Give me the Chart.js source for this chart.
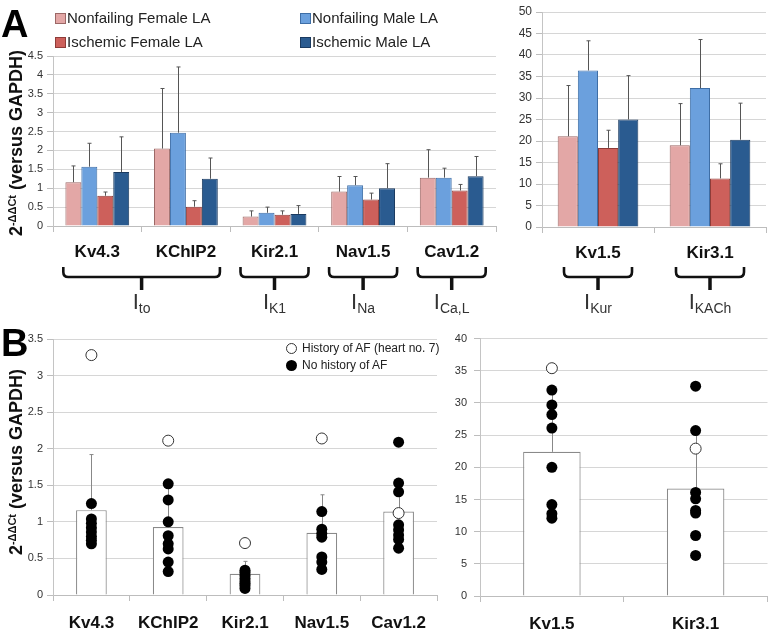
<!DOCTYPE html>
<html><head><meta charset="utf-8">
<script src="https://cdn.jsdelivr.net/npm/chart.js@4.4.0/dist/chart.umd.min.js"></script>
<style>
html,body{margin:0;padding:0;background:#fff;}
#wrap{position:relative;width:774px;height:634px;overflow:hidden;font-family:"Liberation Sans",Arial,sans-serif;}
canvas{position:absolute;}
.abs{position:absolute;white-space:nowrap;color:#222;}
.sq{position:absolute;width:9px;height:9px;border:1px solid;}
.letter{position:absolute;font-weight:bold;font-size:38px;line-height:38px;color:#000;}
.ytitle{position:absolute;font-weight:bold;font-size:18px;color:#111;transform:translate(-50%,-50%) rotate(-90deg);white-space:nowrap;}
.ytitle sup{font-size:11px;vertical-align:6px;}
.dot{position:absolute;width:11px;height:11px;border-radius:50%;box-sizing:border-box;}
</style></head><body><div id="wrap">
<canvas id="cA1" style="left:0;top:0" width="500" height="330"></canvas>
<canvas id="cA2" style="left:500px;top:0" width="274" height="330"></canvas>
<canvas id="cB1" style="left:0;top:325px" width="445" height="309"></canvas>
<canvas id="cB2" style="left:445px;top:325px" width="329" height="309"></canvas>

<div class="letter" style="left:1px;top:5px">A</div>
<div class="letter" style="left:1px;top:324px">B</div>
<div class="ytitle" style="left:16px;top:143px">2<sup>-ΔΔCt</sup> (versus GAPDH)</div>
<div class="ytitle" style="left:16px;top:462px">2<sup>-ΔΔCt</sup> (versus GAPDH)</div>

<div id="legA"></div>
<div class="dot" style="left:286px;top:343px;background:#fff;border:1px solid #333"></div>
<div class="abs" style="left:302px;top:341px;font-size:12px">History of AF (heart no. 7)</div>
<div class="dot" style="left:286px;top:360px;background:#000"></div>
<div class="abs" style="left:302px;top:358px;font-size:12px">No history of AF</div>
</div>
<script>
// ---------- Panel A data ----------
const aCatsLeft = ['Kv4.3','KChIP2','Kir2.1','Nav1.5','Cav1.2'];
const aCatsRight = ['Kv1.5','Kir3.1'];
const seriesNames = ['Nonfailing Female LA','Nonfailing Male LA','Ischemic Female LA','Ischemic Male LA'];

const nfFemaleLeft = [1.16, 2.05, 0.25, 0.91, 1.28];
const nfFemaleErrLeft = [1.59, 3.64, 0.40, 1.31, 2.02];
const nfMaleLeft = [1.57, 2.47, 0.35, 1.08, 1.28];
const nfMaleErrLeft = [2.19, 4.21, 0.50, 1.31, 1.53];
const isFemaleLeft = [0.80, 0.51, 0.30, 0.70, 0.94];
const isFemaleErrLeft = [0.90, 0.67, 0.40, 0.87, 1.10];
const isMaleLeft = [1.43, 1.25, 0.32, 1.00, 1.32];
const isMaleErrLeft = [2.36, 1.80, 0.54, 1.65, 1.84];

const nfFemaleRight = [21.1, 19.0];
const nfFemaleErrRight = [32.9, 28.7];
const nfMaleRight = [36.4, 32.3];
const nfMaleErrRight = [43.3, 43.6];
const isFemaleRight = [18.4, 11.3];
const isFemaleErrRight = [22.5, 14.7];
const isMaleRight = [25.0, 20.3];
const isMaleErrRight = [35.2, 28.8];

// ---------- Panel B data ----------
const bCatsLeft = ['Kv4.3','KChIP2','Kir2.1','Nav1.5','Cav1.2'];
const bMeanLeft = [1.16, 0.93, 0.29, 0.85, 1.14];
const bErrLeft = [1.92, 1.50, 0.46, 1.37, 1.50];
const bOpenLeft = [3.28, 2.11, 0.71, 2.14, 1.12];
const bKv43 = [1.25, 1.04, 0.98, 0.92, 0.86, 0.80, 0.75, 0.70];
const bKChIP2 = [1.52, 1.30, 1.00, 0.81, 0.70, 0.63, 0.45, 0.32];
const bKir21 = [0.34, 0.31, 0.27, 0.23, 0.19, 0.16, 0.13, 0.09];
const bNav15 = [1.14, 0.90, 0.84, 0.79, 0.52, 0.45, 0.35];
const bCav12 = [2.09, 1.53, 1.41, 0.96, 0.89, 0.82, 0.76, 0.64];

const bCatsRight = ['Kv1.5','Kir3.1'];
const bMeanRight = [22.4, 16.7];
const bErrRight = [31.5, 25.0];
const bOpenRight = [35.4, 22.9];
const bKv15 = [32.0, 29.7, 28.2, 26.1, 20.0, 14.2, 12.8, 12.1];
const bKir31 = [32.6, 25.7, 16.1, 15.1, 13.3, 12.9, 9.4, 6.3];

// ---------- styles ----------
const fills = ['#E3A7A6','#6BA0DD','#CD605B','#2A5B90'];
const borders = ['#9c6866','#3e6ea6','#8e3c38','#1a3a60'];
const FONT = '"Liberation Sans", Arial, sans-serif';
Chart.defaults.font.family = FONT;
Chart.defaults.color = '#333';

// legend A (HTML)
(function(){
  const leg = document.getElementById('legA');
  const pos = [[55,13],[300,13],[55,37],[300,37]];
  seriesNames.forEach((n,i)=>{
    const s = document.createElement('div'); s.className='sq';
    s.style.left=pos[i][0]+'px'; s.style.top=(pos[i][1])+'px';
    s.style.background=fills[i]; s.style.borderColor=borders[i];
    leg.appendChild(s);
    const t = document.createElement('div'); t.className='abs';
    t.style.left=(pos[i][0]+12)+'px'; t.style.top=(pos[i][1]-4)+'px'; t.style.fontSize='15px';
    t.textContent=n; leg.appendChild(t);
  });
})();

const errPlugin = {
  id:'errbars',
  afterDatasetDraw(chart, args){
    const ds = chart.data.datasets[args.index];
    if(!ds.errTop) return;
    const ctx = chart.ctx, ys = chart.scales.y;
    ctx.save(); ctx.strokeStyle = ds.errColor || '#555'; ctx.lineWidth = 1;
    args.meta.data.forEach((el,i)=>{
      const t = ds.errTop[i]; if(t==null) return;
      const x = Math.round(el.x)+0.5, y1 = ys.getPixelForValue(t);
      ctx.beginPath(); ctx.moveTo(x, el.y); ctx.lineTo(x, y1);
      ctx.moveTo(x-2, y1); ctx.lineTo(x+2, y1); ctx.stroke();
    });
    ctx.restore();
  }
};

const bracePlugin = {
  id:'braces',
  afterDraw(chart){
    const cfg = chart.options.plugins.braces; if(!cfg || !cfg.groups) return;
    const ctx = chart.ctx, xs = chart.scales.x;
    ctx.save();
    cfg.groups.forEach(g=>{
      const x0 = xs.getPixelForValue(g.from) - cfg.half;
      const x1 = xs.getPixelForValue(g.to) + cfg.half;
      const xc = (x0+x1)/2, r = 5;
      ctx.strokeStyle = '#111'; ctx.lineWidth = 2.6; ctx.lineCap='butt';
      ctx.beginPath();
      ctx.moveTo(x0, cfg.top); ctx.lineTo(x0, cfg.mid - r);
      ctx.quadraticCurveTo(x0, cfg.mid, x0 + r, cfg.mid);
      ctx.lineTo(x1 - r, cfg.mid);
      ctx.quadraticCurveTo(x1, cfg.mid, x1, cfg.mid - r);
      ctx.lineTo(x1, cfg.top);
      ctx.stroke();
      ctx.lineWidth = 3.5;
      ctx.beginPath(); ctx.moveTo(xc, cfg.mid); ctx.lineTo(xc, cfg.bot); ctx.stroke();
      // label I_sub
      ctx.fillStyle = '#333';
      ctx.font = '22px ' + FONT; const wI = ctx.measureText('I').width;
      ctx.font = '14px ' + FONT; const wS = ctx.measureText(g.sub).width;
      const sx = xc - (wI + wS)/2;
      ctx.textBaseline = 'alphabetic'; ctx.textAlign = 'left';
      ctx.font = '22px ' + FONT; ctx.fillText('I', sx, cfg.labelY);
      ctx.font = '14px ' + FONT; ctx.fillText(g.sub, sx + wI, cfg.labelY + 4);
    });
    ctx.restore();
  }
};

function yScale(max, step, width, fontSize, pad){
  return {
    min:0, max:max,
    ticks:{stepSize:step, font:{size:fontSize}, color:'#333', padding:pad,
      callback:(v)=>String(Math.round(v*100)/100)},
    grid:{color:'#d6d6d6', lineWidth:1, tickLength:6, tickColor:'#bdbdbd'},
    border:{display:true, color:'#c4c4c4'},
    afterFit(s){ s.width = width; }
  };
}
function xScale(height, pad){
  return {
    offset:true,
    ticks:{font:{size:17, weight:'bold'}, color:'#111', padding:pad, maxRotation:0, autoSkip:false},
    grid:{offset:true, drawOnChartArea:false, drawTicks:true, tickLength:6, tickColor:'#bdbdbd'},
    border:{display:true, color:'#bdbdbd'},
    afterFit(s){ s.height = height; }
  };
}
function barSets(vals, errs){
  return vals.map((v,i)=>({
    label: seriesNames[i], data: v, errTop: errs[i], errColor:'#555',
    backgroundColor: fills[i], borderColor: borders[i], borderWidth: 1,
    categoryPercentage: 0.72, barPercentage: 1.0
  }));
}
const common = {responsive:false, animation:false, events:[], maintainAspectRatio:false};

new Chart(document.getElementById('cA1'), {
  type:'bar',
  data:{labels:aCatsLeft, datasets: barSets(
    [nfFemaleLeft, nfMaleLeft, isFemaleLeft, isMaleLeft],
    [nfFemaleErrLeft, nfMaleErrLeft, isFemaleErrLeft, isMaleErrLeft])},
  options:Object.assign({}, common, {
    layout:{padding:{top:56, right:4, left:0, bottom:0}},
    plugins:{legend:{display:false}, tooltip:{enabled:false},
      braces:{half:34, top:267, mid:277, bot:290, labelY:309, groups:[
        {from:0,to:1,sub:'to'},{from:2,to:2,sub:'K1'},{from:3,to:3,sub:'Na'},{from:4,to:4,sub:'Ca,L'}]}},
    scales:{x:xScale(104, 10), y:yScale(4.5, 0.5, 53, 11, 4)}
  }),
  plugins:[errPlugin, bracePlugin]
});

new Chart(document.getElementById('cA2'), {
  type:'bar',
  data:{labels:aCatsRight, datasets: barSets(
    [nfFemaleRight, nfMaleRight, isFemaleRight, isMaleRight],
    [nfFemaleErrRight, nfMaleErrRight, isFemaleErrRight, isMaleErrRight])},
  options:Object.assign({}, common, {
    layout:{padding:{top:12, right:8, left:0, bottom:0}},
    plugins:{legend:{display:false}, tooltip:{enabled:false},
      braces:{half:34, top:267, mid:277, bot:290, labelY:309, groups:[
        {from:0,to:0,sub:'Kur'},{from:1,to:1,sub:'KACh'}]}},
    scales:{x:xScale(103, 10), y:yScale(50, 5, 42, 12, 4)}
  }),
  plugins:[errPlugin, bracePlugin]
});

function bDatasets(cats, means, errs, opens, filledLists){
  const filled = [];
  filledLists.forEach((arr,i)=>arr.forEach(v=>filled.push({x:cats[i], y:v})));
  return [
    {type:'line', label:'History of AF (heart no. 7)', data: opens, showLine:false,
     pointRadius:5.5, pointBackgroundColor:'#fff', pointBorderColor:'#333', pointBorderWidth:1, clip:false},
    {type:'line', label:'No history of AF', data: filled, showLine:false,
     pointRadius:5.5, pointBackgroundColor:'#000', pointBorderColor:'#000', pointBorderWidth:0, clip:false},
    {type:'bar', label:'Mean', data: means, errTop: errs, errColor:'#888',
     backgroundColor:'#fff', borderColor:'#8a8a8a', borderWidth:1.2,
     categoryPercentage:0.40, barPercentage:1.0}
  ];
}

new Chart(document.getElementById('cB1'), {
  type:'bar',
  data:{labels:bCatsLeft, datasets: bDatasets(bCatsLeft, bMeanLeft, bErrLeft, bOpenLeft,
    [bKv43, bKChIP2, bKir21, bNav15, bCav12])},
  options:Object.assign({}, common, {
    layout:{padding:{top:14, right:8, left:0, bottom:0}},
    plugins:{legend:{display:false}, tooltip:{enabled:false}},
    scales:{x:xScale(39, 12), y:yScale(3.5, 0.5, 53, 11, 4)}
  }),
  plugins:[errPlugin]
});

new Chart(document.getElementById('cB2'), {
  type:'bar',
  data:{labels:bCatsRight, datasets: bDatasets(bCatsRight, bMeanRight, bErrRight, bOpenRight,
    [bKv15, bKir31])},
  options:Object.assign({}, common, {
    layout:{padding:{top:12, right:1, left:0, bottom:0}},
    plugins:{legend:{display:false}, tooltip:{enabled:false}},
    scales:{x:xScale(38, 12), y:yScale(40, 5, 35, 11, 7)}
  }),
  plugins:[errPlugin]
});
</script>
</body></html>
